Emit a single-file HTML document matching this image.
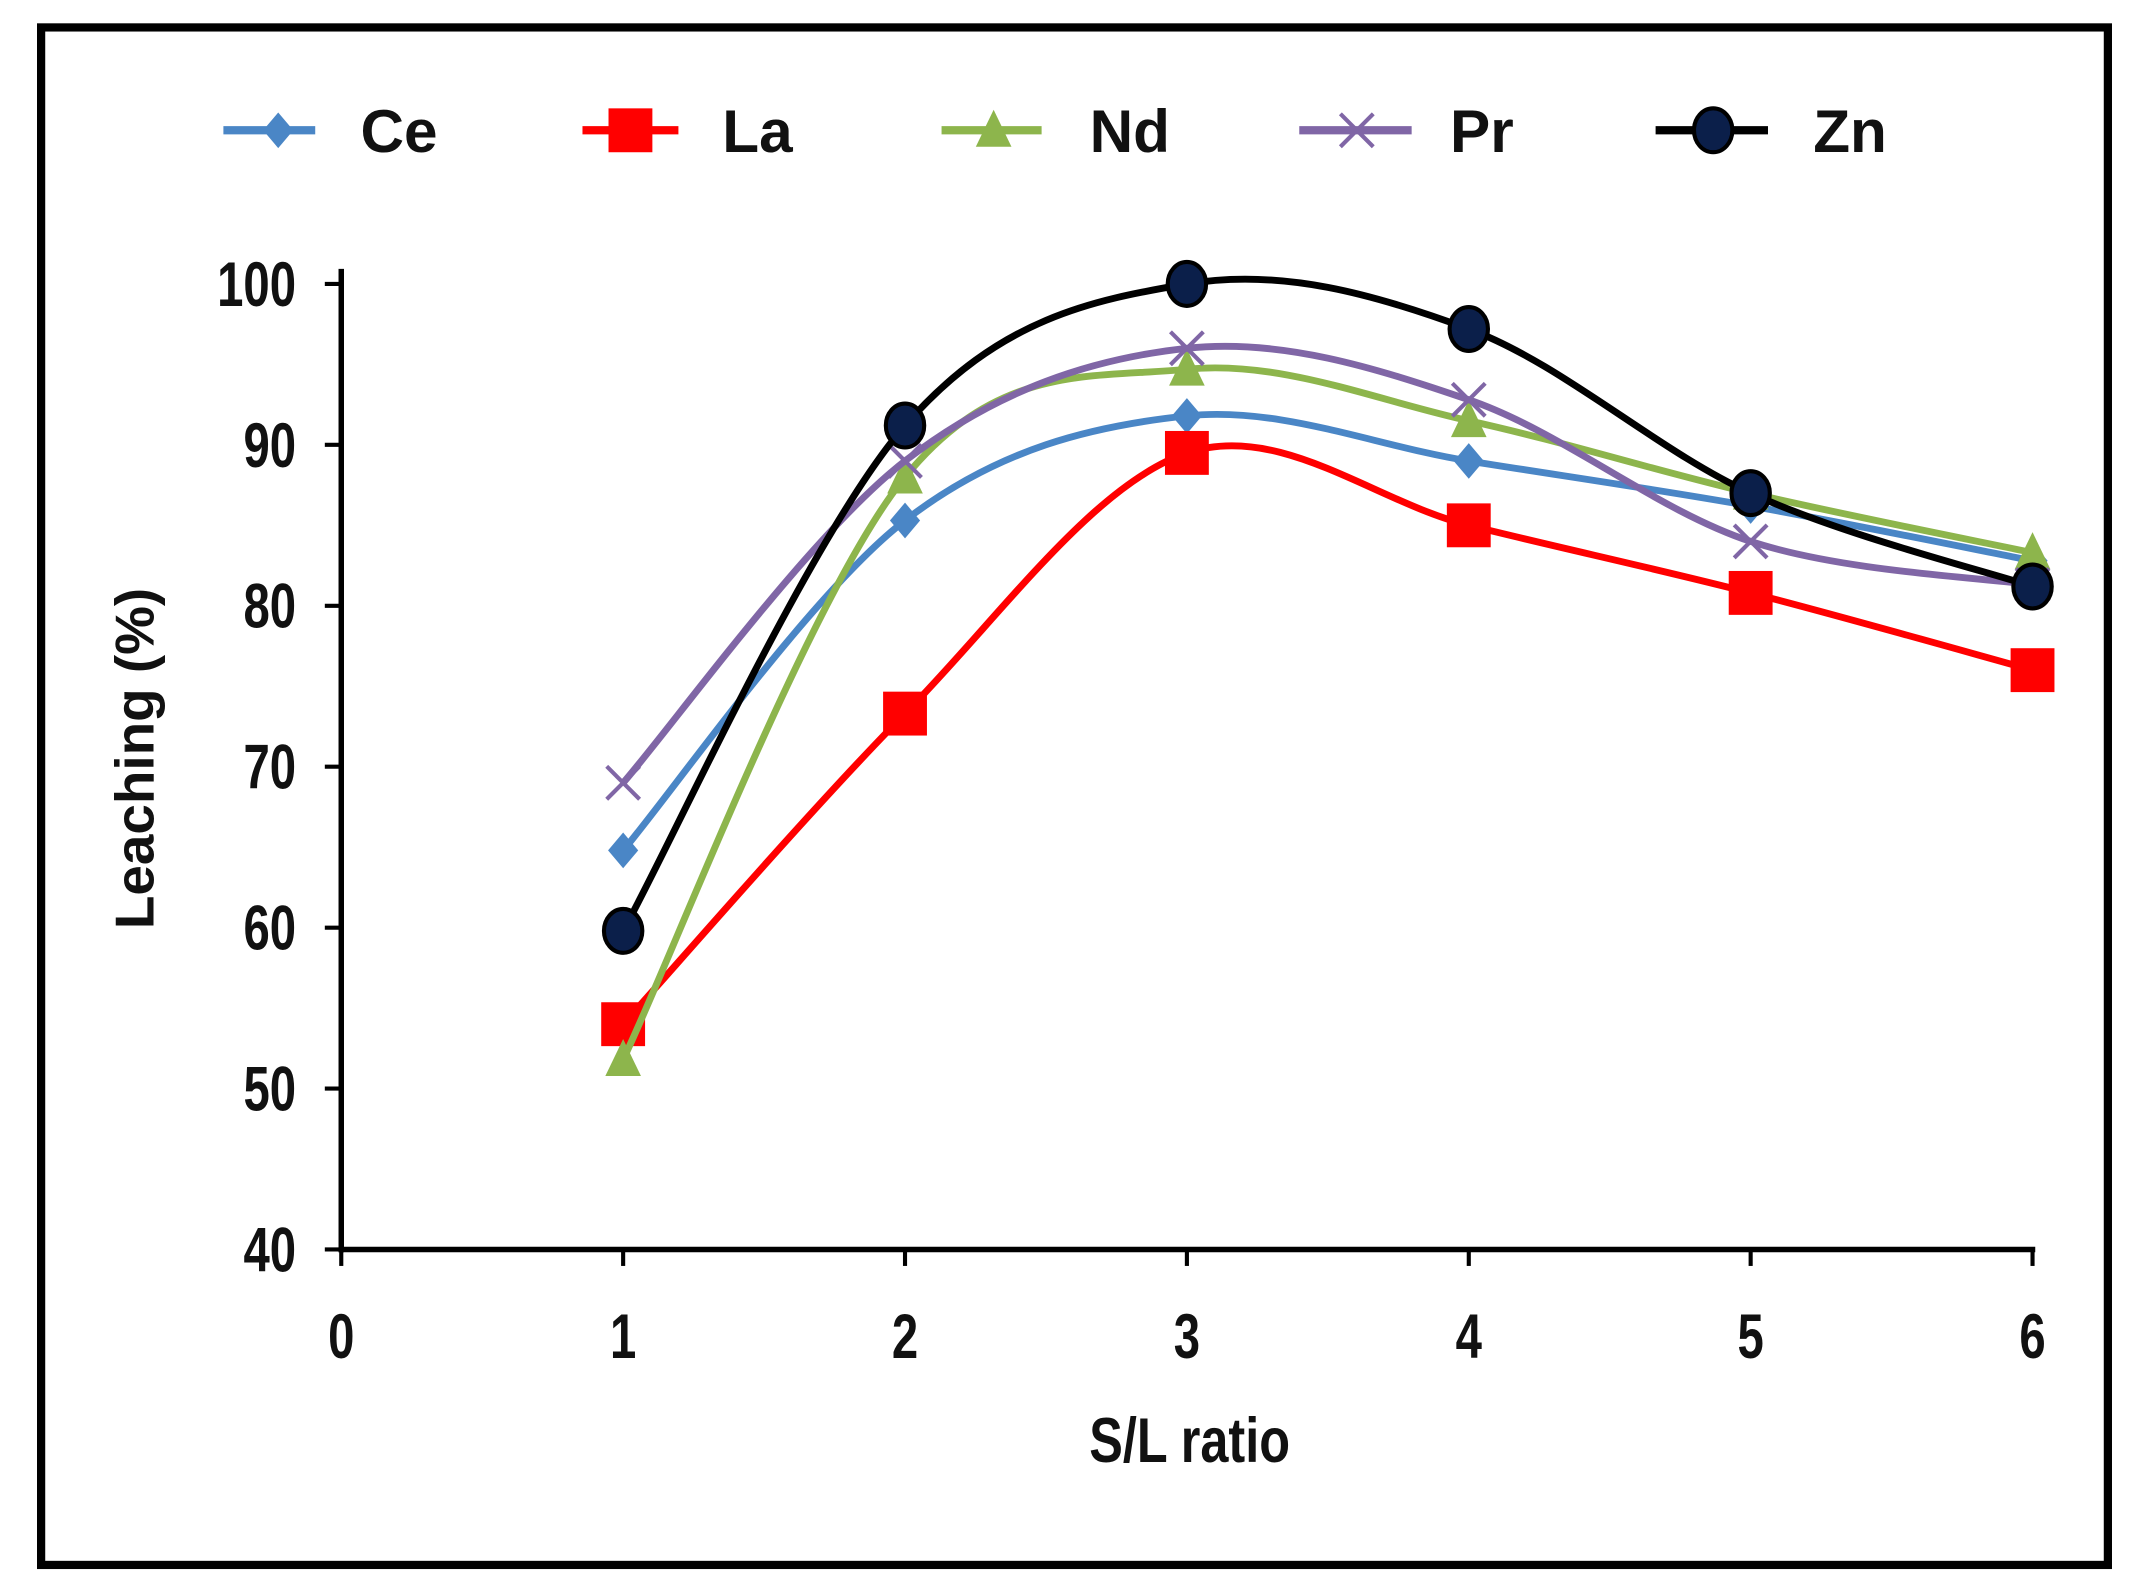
<!DOCTYPE html>
<html><head><meta charset="utf-8"><style>
html,body{margin:0;padding:0;background:#fff;}
svg{display:block;}
text{font-family:"Liberation Sans",Arial,sans-serif;font-weight:bold;fill:#111;}
</style></head><body>
<svg id="s" width="2149" height="1591" viewBox="0 0 1568 1160" preserveAspectRatio="none" xmlns="http://www.w3.org/2000/svg">
<rect x="0" y="0" width="1568" height="1160" fill="#fff"/>
<rect x="30" y="20" width="1508" height="1121" fill="none" stroke="#000" stroke-width="6"/>
<g id="axes" stroke="#000" stroke-width="4" fill="none">
<line x1="249" y1="196" x2="249" y2="913"/>
<line x1="247" y1="911" x2="1485" y2="911"/>
</g>
<g id="ticks" stroke="#000" stroke-width="3"></g>
<g id="labels"></g>
<g id="series"></g>
<text x="112" y="553" font-size="40" text-anchor="middle" transform="rotate(-90 112 553)">Leaching (%)</text>
<text x="868" y="1066" font-size="46" text-anchor="middle" transform="translate(868 0) scale(0.8 1) translate(-868 0)">S/L ratio</text>
<g id="legend"></g>
</svg>
<script>
const NS="http://www.w3.org/2000/svg";
function el(t,a,p){const e=document.createElementNS(NS,t);for(const k in a)e.setAttribute(k,a[k]);if(p)p.appendChild(e);return e;}
const X=i=>249+i*205.67, Y=v=>911-(v-40)*11.733;
const tk=document.getElementById('ticks'), lb=document.getElementById('labels');
for(let v=40;v<=100;v+=10){el('line',{x1:237,y1:Y(v),x2:249,y2:Y(v)},tk);
 const t=el('text',{x:0,y:0,'font-size':46,'text-anchor':'end',transform:`translate(216 ${Y(v)+16}) scale(0.75 1)`},lb);t.textContent=v;}
for(let i=0;i<=6;i++){el('line',{x1:X(i),y1:911,x2:X(i),y2:923},tk);
 const t=el('text',{x:0,y:0,'font-size':46,'text-anchor':'middle',transform:`translate(${X(i)} 990) scale(0.75 1)`},lb);t.textContent=i;}
const S=[
 {n:'Ce',c:'#4a86c6',m:'d',d:[64.8,85.3,91.8,89,86.2,82.8]},
 {n:'La',c:'#ff0000',m:'s',d:[54,73.3,89.5,85,80.8,76]},
 {n:'Nd',c:'#8db54c',m:'t',d:[51.8,88,94.7,91.5,87,83.3]},
 {n:'Pr',c:'#8066a6',m:'x',d:[69,89,96,92.8,84,81.3]},
 {n:'Zn',c:'#000',m:'c',d:[59.8,91.2,100,97.2,87,81.2]}];
function path(p){let d=`M${p[0][0]},${p[0][1]}`;for(let i=0;i<p.length-1;i++){const p0=p[Math.max(0,i-1)],p1=p[i],p2=p[i+1],p3=p[Math.min(p.length-1,i+2)];const k=6;
 d+=` C${p1[0]+(p2[0]-p0[0])/k},${p1[1]+(p2[1]-p0[1])/k} ${p2[0]-(p3[0]-p1[0])/k},${p2[1]-(p3[1]-p1[1])/k} ${p2[0]},${p2[1]}`;}return d;}
function mark(m,x,y,c,g,sz){sz=sz||1;
 if(m=='d')el('polygon',{points:`${x},${y-13*sz} ${x+11*sz},${y} ${x},${y+13*sz} ${x-11*sz},${y}`,fill:c},g);
 if(m=='s')el('rect',{x:x-16*sz,y:y-16*sz,width:32*sz,height:32*sz,fill:c},g);
 if(m=='t')el('polygon',{points:`${x},${y-15*sz} ${x+13*sz},${y+12*sz} ${x-13*sz},${y+12*sz}`,fill:c},g);
 if(m=='x'){el('line',{x1:x-12*sz,y1:y-12*sz,x2:x+12*sz,y2:y+12*sz,stroke:c,'stroke-width':3},g);el('line',{x1:x-12*sz,y1:y+12*sz,x2:x+12*sz,y2:y-12*sz,stroke:c,'stroke-width':3},g);}
 if(m=='c')el('ellipse',{cx:x,cy:y,rx:14*sz,ry:16*sz,fill:'#0b1f4a',stroke:'#000','stroke-width':3},g);}
const sg=document.getElementById('series');
S.forEach(s=>{const p=s.d.map((v,i)=>[X(i+1),Y(v)]);el('path',{d:path(p),fill:'none',stroke:s.c,'stroke-width':5},sg);
 p.forEach(q=>mark(s.m,q[0],q[1],s.c,sg));});
const lg=document.getElementById('legend');
const L=[[163,230,203,263],[425,495,460,527],[687,760,725,795],[948,1030,990,1058],[1208,1290,1250,1323]];
S.forEach((s,i)=>{const l=L[i];el('line',{x1:l[0],y1:95,x2:l[1],y2:95,stroke:s.c,'stroke-width':6},lg);mark(s.m,l[2],95,s.c,lg);
 const t=el('text',{x:l[3],y:111,'font-size':44},lg);t.textContent=s.n;});
</script>
</body></html>
